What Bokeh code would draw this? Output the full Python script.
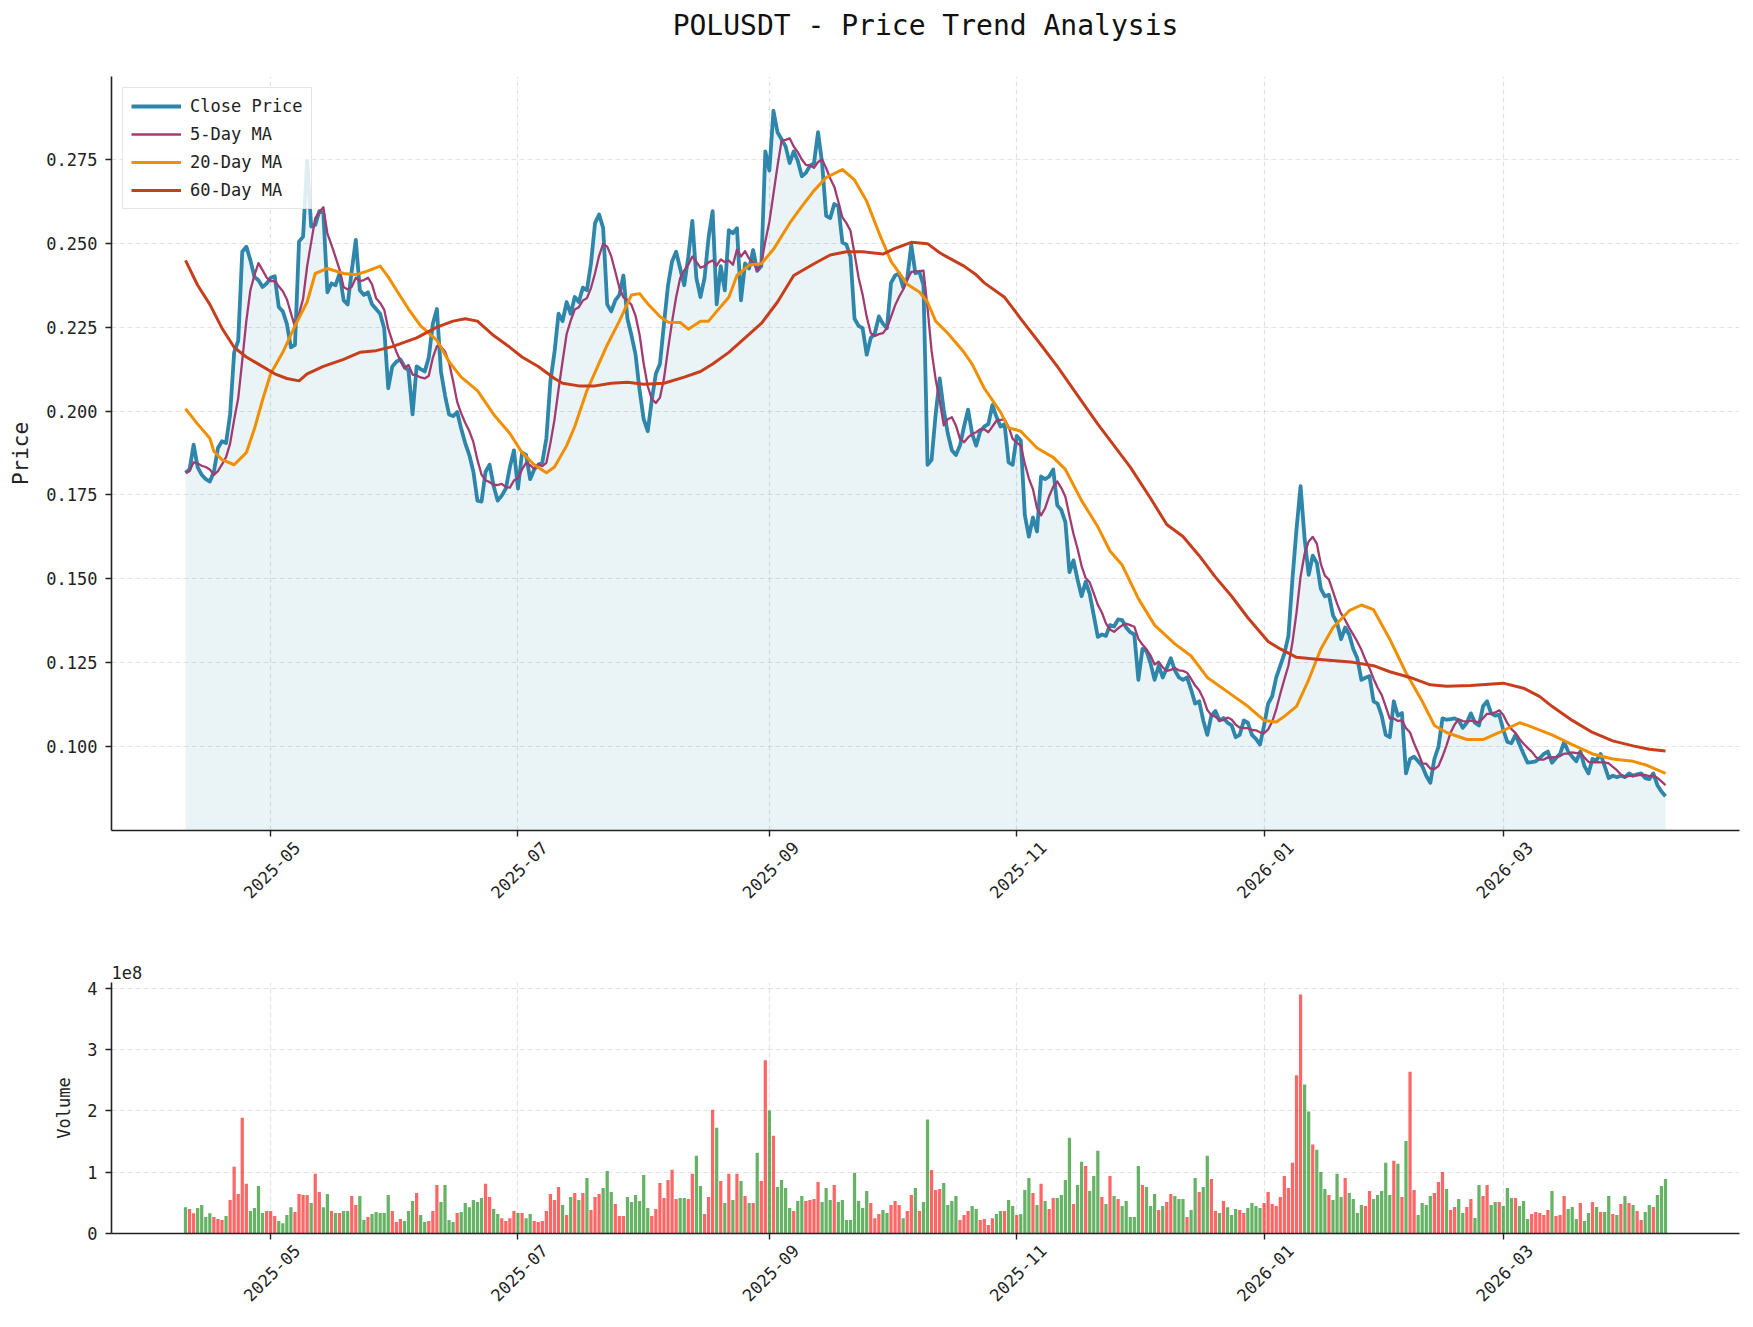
import numpy as np
import pandas as pd
from math import pi
from bokeh.plotting import figure
from bokeh.layouts import column
from bokeh.core.properties import value
from bokeh.models import (Range1d, FixedTicker, DatetimeTickFormatter,
                          NumeralTickFormatter, Legend, LegendItem)
from bokeh.embed import file_html
from bokeh.resources import INLINE

# ---------------- data ----------------
TITLE = "POLUSDT - Price Trend Analysis"
START = "2025-04-10"   # first daily close; one value per day

close = [
    0.1816, 0.1826, 0.1900, 0.1833, 0.1810, 0.1797, 0.1790, 0.1819, 0.1890, 0.1910,
    0.1905, 0.1990, 0.2175, 0.2210, 0.2475, 0.2490, 0.2450, 0.2400, 0.2390, 0.2370,
    0.2380, 0.2397, 0.2402, 0.2310, 0.2297, 0.2260, 0.2190, 0.2197, 0.2505, 0.2520,
    0.2746, 0.2550, 0.2555, 0.2596, 0.2590, 0.2354, 0.2380, 0.2375, 0.2410, 0.2330,
    0.2318, 0.2418, 0.2510, 0.2360, 0.2346, 0.2354, 0.2318, 0.2304, 0.2290, 0.2247,
    0.2068, 0.2133, 0.2147, 0.2154, 0.2133, 0.2120, 0.1990, 0.2133, 0.2125, 0.2118,
    0.2160, 0.2260, 0.2304, 0.2118, 0.2047, 0.1990, 0.1985, 0.1997, 0.1947, 0.1904,
    0.1869, 0.1819, 0.1733, 0.1730, 0.1819, 0.1840, 0.1776, 0.1733, 0.1748, 0.1769,
    0.1833, 0.1883, 0.1769, 0.1876, 0.1869, 0.1797, 0.1826, 0.1840, 0.1847, 0.1919,
    0.2090, 0.2175, 0.2290, 0.2268, 0.2325, 0.2290, 0.2340, 0.2325, 0.2368, 0.2360,
    0.2440, 0.2560, 0.2586, 0.2546, 0.2318, 0.2297, 0.2330, 0.2346, 0.2404, 0.2275,
    0.2225, 0.2168, 0.2061, 0.1976, 0.1940, 0.2033, 0.2111, 0.2140, 0.2260, 0.2375,
    0.2446, 0.2475, 0.2425, 0.2375, 0.2460, 0.2567, 0.2396, 0.2340, 0.2396, 0.2517,
    0.2596, 0.2318, 0.2432, 0.2360, 0.2539, 0.2530, 0.2545, 0.2330, 0.2440, 0.2425,
    0.2480, 0.2418, 0.2432, 0.2774, 0.2717, 0.2895, 0.2831, 0.2810, 0.2789, 0.2739,
    0.2774, 0.2746, 0.2700, 0.2710, 0.2731, 0.2739, 0.2831, 0.2739, 0.2582, 0.2575,
    0.2617, 0.2610, 0.2503, 0.2496, 0.2460, 0.2275, 0.2254, 0.2247, 0.2168, 0.2218,
    0.2232, 0.2282, 0.2260, 0.2247, 0.2382, 0.2404, 0.2410, 0.2368, 0.2396, 0.2496,
    0.2411, 0.2415, 0.2375, 0.1840, 0.1855, 0.1990, 0.2097, 0.2004, 0.1933, 0.1883,
    0.1869, 0.1897, 0.1954, 0.2004, 0.1933, 0.1897, 0.1940, 0.1954, 0.1961, 0.2018,
    0.1983, 0.1954, 0.1961, 0.1847, 0.1840, 0.1926, 0.1912, 0.1690, 0.1626, 0.1683,
    0.1641, 0.1805, 0.1797, 0.1805, 0.1826, 0.1719, 0.1705, 0.1669, 0.1520, 0.1555,
    0.1498, 0.1448, 0.1491, 0.1455, 0.1391, 0.1327, 0.1334, 0.1330, 0.1362, 0.1358,
    0.1379, 0.1377, 0.1355, 0.1341, 0.1334, 0.1199, 0.1291, 0.1285, 0.1248, 0.1199,
    0.1241, 0.1206, 0.1234, 0.1263, 0.1227, 0.1206, 0.1199, 0.1206, 0.1170, 0.1128,
    0.1135, 0.1078, 0.1035, 0.1092, 0.1106, 0.1078, 0.1085, 0.1071, 0.1063, 0.1028,
    0.1035, 0.1078, 0.1071, 0.1035, 0.1023, 0.1006, 0.1063, 0.1128, 0.1150, 0.1206,
    0.1241, 0.1277, 0.1330, 0.1500, 0.1648, 0.1776, 0.1620, 0.1512, 0.1569, 0.1548,
    0.1470, 0.1448, 0.1452, 0.1391, 0.1369, 0.1320, 0.1355, 0.1334, 0.1291, 0.1263,
    0.1199, 0.1205, 0.1210, 0.1135, 0.1128, 0.1092, 0.1035, 0.1028, 0.1135, 0.1092,
    0.1100, 0.0920, 0.0963, 0.0970, 0.0956, 0.0942, 0.0913, 0.0892, 0.0963, 0.0999,
    0.1084, 0.1080, 0.1082, 0.1084, 0.1078, 0.1056, 0.1071, 0.1099, 0.1071, 0.1063,
    0.1120, 0.1135, 0.1099, 0.1092, 0.1095, 0.1049, 0.1014, 0.1010, 0.1035, 0.1006,
    0.0978, 0.0952, 0.0954, 0.0956, 0.0966, 0.0978, 0.0985, 0.0952, 0.0966, 0.0978,
    0.1014, 0.0985, 0.0970, 0.0956, 0.0985, 0.0942, 0.0920, 0.0963, 0.0960, 0.0978,
    0.0942, 0.0906, 0.0913, 0.0909, 0.0913, 0.0909, 0.0920, 0.0913, 0.0917, 0.0920,
    0.0906, 0.0903, 0.0920, 0.0885, 0.0866, 0.0852,
]

# daily volume, in units of 1e8
volume_1e8 = [
    0.43, 0.40, 0.33, 0.415, 0.465, 0.27, 0.33, 0.27, 0.235, 0.22,
    0.285, 0.546, 1.087, 0.645, 1.89, 0.81, 0.366, 0.415, 0.776, 0.333,
    0.366, 0.366, 0.284, 0.202, 0.169, 0.30, 0.43, 0.35, 0.645, 0.628,
    0.628, 0.497, 0.973, 0.678, 0.43, 0.645, 0.366, 0.333, 0.333, 0.366,
    0.366, 0.612, 0.465, 0.612, 0.219, 0.268, 0.317, 0.35, 0.333, 0.333,
    0.628, 0.366, 0.186, 0.235, 0.202, 0.366, 0.53, 0.66, 0.30, 0.186,
    0.202, 0.366, 0.79, 0.514, 0.79, 0.219, 0.186, 0.333, 0.35, 0.497,
    0.43, 0.546, 0.514, 0.58, 0.81, 0.596, 0.40, 0.317, 0.25, 0.202,
    0.25, 0.366, 0.333, 0.333, 0.25, 0.317, 0.202, 0.186, 0.202, 0.366,
    0.645, 0.546, 0.76, 0.465, 0.30, 0.596, 0.66, 0.546, 0.66, 0.907,
    0.383, 0.596, 0.645, 0.743, 1.02, 0.678, 0.48, 0.284, 0.284, 0.596,
    0.514, 0.628, 0.53, 0.956, 0.415, 0.284, 0.40, 0.825, 0.58, 0.874,
    1.04, 0.563, 0.58, 0.58, 0.563, 0.973, 1.268, 0.776, 0.317, 0.596,
    2.02, 1.727, 0.858, 0.497, 0.973, 0.546, 0.973, 0.858, 0.612, 0.497,
    0.497, 1.317, 0.858, 2.825, 2.005, 1.596, 0.76, 0.874, 0.743, 0.415,
    0.366, 0.53, 0.612, 0.53, 0.546, 0.563, 0.842, 0.514, 0.743, 0.546,
    0.79, 0.514, 0.546, 0.219, 0.219, 0.99, 0.53, 0.415, 0.694, 0.497,
    0.25, 0.317, 0.383, 0.333, 0.465, 0.53, 0.465, 0.25, 0.366, 0.628,
    0.743, 0.366, 0.514, 1.858, 1.038, 0.71, 0.727, 0.825, 0.465, 0.53,
    0.612, 0.219, 0.30, 0.366, 0.448, 0.40, 0.219, 0.235, 0.137, 0.25,
    0.317, 0.366, 0.366, 0.546, 0.448, 0.30, 0.317, 0.71, 0.907, 0.66,
    0.465, 0.81, 0.53, 0.40, 0.58, 0.58, 0.628, 0.874, 1.563, 0.48,
    0.79, 1.17, 1.10, 0.694, 0.94, 1.35, 0.596, 0.48, 0.94, 0.612,
    0.563, 0.448, 0.53, 0.268, 0.268, 1.10, 0.79, 0.76, 0.448, 0.645,
    0.383, 0.448, 0.514, 0.645, 0.612, 0.563, 0.563, 0.268, 0.383, 0.907,
    0.678, 0.76, 1.268, 0.89, 0.366, 0.333, 0.53, 0.43, 0.30, 0.40,
    0.383, 0.333, 0.415, 0.497, 0.448, 0.415, 0.497, 0.678, 0.48, 0.448,
    0.596, 0.94, 0.743, 1.153, 2.58, 3.90, 2.43, 1.99, 1.45, 1.366,
    1.005, 0.727, 0.628, 0.546, 0.973, 0.596, 0.907, 0.66, 0.563, 0.333,
    0.464, 0.448, 0.694, 0.563, 0.628, 0.694, 1.153, 0.628, 1.186, 1.137,
    0.596, 1.51, 2.64, 0.71, 0.30, 0.497, 0.465, 0.612, 0.66, 0.842,
    1.005, 0.727, 0.383, 0.432, 0.563, 0.333, 0.432, 0.563, 0.251, 0.792,
    0.612, 0.792, 0.465, 0.514, 0.514, 0.448, 0.743, 0.579, 0.579, 0.448,
    0.53, 0.235, 0.317, 0.35, 0.333, 0.30, 0.383, 0.694, 0.284, 0.30,
    0.612, 0.40, 0.432, 0.235, 0.497, 0.202, 0.333, 0.514, 0.432, 0.35,
    0.35, 0.612, 0.317, 0.30, 0.481, 0.612, 0.497, 0.465, 0.366, 0.219,
    0.35, 0.465, 0.432, 0.628, 0.776, 0.891,
]

# u = up day (red bar), d = down day (green bar)
direction = " ".join([
    "d u u d d d d u u u", "d u u u u u d d d d", "u u u d d d d u u u",
    "u d u u d d u d u d", "d u u d d u d d d d", "d u u u d d d u d d",
    "u u u d d d d u d d", "d d d d u u d d u u", "u u d u d d u u u u",
    "u u u d u d u d u d", "u u u d d d u u u d", "d d d d d u u u u u",
    "u u d d u u d d u u", "u d u d u d u d u d", "u d u u d u d d d d",
    "u d d u u u u d d d", "u d d d d d d d d u", "u u d d u u u d u u",
    "d u d d u u u d d d", "d u u u d d u u u u", "d d u d d u d d d u",
    "d u d u u d d d d u", "d d u d d d u d u d", "u d d d d d u d d d",
    "u d u u d d d u d d", "u d d u u d u d d d", "u u d d d d u u u u",
    "u u u u u u d d u d", "d d u d d d u d d d", "d u u d d d d d u d",
    "u d u u d d d d u u", "u d u u d d u u d d", "u u d d u d d d u d",
    "d d u u u u u d u u", "u d d d u d d u d u", "d d u d u d u d u u",
    "d d u d d d",
]).split()

# 20-day moving average: (day index, value)
ma20_day = [0, 3, 6, 7, 9, 12, 15, 17, 19, 21, 24, 27, 30, 32, 35, 39, 42, 45, 48, 50,
            52, 55, 58, 62, 65, 68, 72, 76, 80, 83, 86, 89, 91, 94, 96, 99, 104, 107, 110, 112,
            114, 117, 119, 122, 124, 127, 129, 131, 134, 136, 139, 142, 145, 149, 152, 155, 158, 162, 165, 168,
            171, 174, 178, 181, 183, 185, 188, 192, 194, 197, 201, 203, 206, 210, 214, 217, 221, 225, 228, 231,
            235, 239, 244, 248, 252, 257, 262, 266, 269, 271, 274, 277, 280, 283, 287, 290, 293, 297, 301, 305,
            308, 311, 316, 320, 324, 329, 331, 337, 342, 347, 352, 357, 360, 365]
ma20_val = [0.2007, 0.1961, 0.1919, 0.1880, 0.1855, 0.1840, 0.1876, 0.1947, 0.2033, 0.2111,
            0.2175, 0.2254, 0.2325, 0.2410, 0.2425, 0.2410, 0.2406, 0.2418, 0.2432, 0.2400,
            0.2361, 0.2304, 0.2254, 0.2211, 0.2147, 0.2101, 0.2061, 0.1990, 0.1933, 0.1876,
            0.1840, 0.1816, 0.1833, 0.1897, 0.1954, 0.2061, 0.2197, 0.2268, 0.2346, 0.2350,
            0.2320, 0.2282, 0.2265, 0.2264, 0.2244, 0.2268, 0.2268, 0.2297, 0.2339, 0.2404,
            0.2435, 0.2439, 0.2482, 0.2560, 0.2610, 0.2657, 0.2696, 0.2720, 0.2689, 0.2625,
            0.2532, 0.2446, 0.2378, 0.2355, 0.2325, 0.2268, 0.2232, 0.2175, 0.2140, 0.2068,
            0.1997, 0.1950, 0.1940, 0.1890, 0.1862, 0.1826, 0.1733, 0.1655, 0.1583, 0.1541,
            0.1441, 0.1362, 0.1306, 0.1270, 0.1206, 0.1163, 0.1120, 0.1078, 0.1073, 0.1090,
            0.1120, 0.1199, 0.1291, 0.1355, 0.1405, 0.1422, 0.1408, 0.1320, 0.1220, 0.1135,
            0.1063, 0.1042, 0.1021, 0.1021, 0.1042, 0.1071, 0.1063, 0.1035, 0.1006, 0.0978,
            0.0963, 0.0956, 0.0946, 0.0920]

# 60-day moving average: (day index, value)
ma60_day = [0, 3, 6, 9, 12, 15, 18, 22, 25, 28, 30, 34, 39, 43, 47, 51, 57, 62, 66, 69,
            72, 76, 80, 83, 87, 91, 93, 97, 101, 105, 109, 113, 118, 123, 127, 130, 134, 138, 142, 146,
            150, 155, 159, 163, 167, 172, 175, 179, 183, 186, 188, 192, 195, 197, 202, 206, 211, 215, 220, 225,
            229, 233, 238, 242, 246, 250, 254, 258, 262, 267, 270, 274, 279, 288, 293, 297, 302, 307, 311, 317,
            325, 330, 334, 337, 342, 347, 352, 357, 361, 365]
ma60_val = [0.2449, 0.2375, 0.2318, 0.2247, 0.2190, 0.2161, 0.2140, 0.2111, 0.2097, 0.2090,
            0.2111, 0.2133, 0.2154, 0.2175, 0.2180, 0.2192, 0.2218, 0.2250, 0.2268, 0.2275,
            0.2268, 0.2225, 0.2190, 0.2161, 0.2133, 0.2097, 0.2083, 0.2075, 0.2075, 0.2083,
            0.2086, 0.2080, 0.2083, 0.2101, 0.2118, 0.2140, 0.2175, 0.2218, 0.2261, 0.2325,
            0.2404, 0.2439, 0.2465, 0.2475, 0.2475, 0.2468, 0.2485, 0.2503, 0.2499, 0.2472,
            0.2458, 0.2432, 0.2406, 0.2382, 0.2339, 0.2275, 0.2197, 0.2133, 0.2047, 0.1961,
            0.1897, 0.1833, 0.1740, 0.1662, 0.1626, 0.1569, 0.1505, 0.1448, 0.1384, 0.1313,
            0.1291, 0.1266, 0.1260, 0.1251, 0.1241, 0.1223, 0.1206, 0.1184, 0.1180, 0.1182,
            0.1189, 0.1174, 0.1149, 0.1120, 0.1078, 0.1042, 0.1017, 0.1002, 0.0992, 0.0987]

month_ticks = ["2025-05-01", "2025-07-01", "2025-09-01", "2025-11-01", "2026-01-01", "2026-03-01"]
price_ticks = [0.100, 0.125, 0.150, 0.175, 0.200, 0.225, 0.250, 0.275]
volume_ticks = [0, 1, 2, 3, 4]

# ---------------- derived ----------------
start = pd.Timestamp(START)
n = len(close)
dates = start + pd.to_timedelta(np.arange(n), unit="D")
ma5 = pd.Series(close).rolling(5, min_periods=1).mean().values
ma20_dates = start + pd.to_timedelta(np.array(ma20_day), unit="D")
ma60_dates = start + pd.to_timedelta(np.array(ma60_day), unit="D")
bar_colors = ["red" if d == "u" else "green" for d in direction]

pad = pd.Timedelta(days=(n - 1) * 0.05)
x_lo = start - pad
x_hi = dates[-1] + pad
pmin, pmax = min(close), max(close)
prng = pmax - pmin
vmax = max(volume_1e8)

FONT = "DejaVu Sans Mono"
DARK = "#222222"
MS_DAY = 86400000
month_ms = [pd.Timestamp(m).value / 1e6 for m in month_ticks]
LABEL_SHIFT_DAYS = 6.5   # rotated labels sit centred under their tick

fmt = DatetimeTickFormatter(
    microseconds="%Y-%m", milliseconds="%Y-%m", seconds="%Y-%m", minsec="%Y-%m",
    minutes="%Y-%m", hourmin="%Y-%m", hours="%Y-%m", days="%Y-%m",
    months="%Y-%m", years="%Y-%m")

W = 1753
FRAME_L, FRAME_R = 111, 14
TITLE_H = 50


def style(p, ylabel, ylabel_size, yticks, yfmt=None):
    p.outline_line_color = None
    p.background_fill_color = "white"
    p.border_fill_color = "white"
    # x axis: tick marks at month starts (minor), labels on a shifted major set
    xa = p.xaxis[0]
    xa.ticker = FixedTicker(ticks=[t + LABEL_SHIFT_DAYS * MS_DAY for t in month_ms],
                            minor_ticks=month_ms)
    xa.formatter = fmt
    xa.major_tick_line_color = None
    xa.major_tick_out = 6
    xa.major_tick_in = 0
    xa.minor_tick_line_color = DARK
    xa.minor_tick_line_width = 1.4
    xa.minor_tick_out = 6
    xa.minor_tick_in = 0
    xa.major_label_orientation = pi / 4
    ya = p.yaxis[0]
    ya.ticker = FixedTicker(ticks=yticks)
    if yfmt is not None:
        ya.formatter = yfmt
    ya.major_tick_line_color = DARK
    ya.major_tick_line_width = 1.4
    ya.major_tick_out = 6
    ya.major_tick_in = 0
    ya.minor_tick_line_color = None
    for ax in (xa, ya):
        ax.axis_line_color = DARK
        ax.axis_line_width = 1.6
        ax.major_label_text_font = FONT
        ax.major_label_text_font_size = "17px"
        ax.major_label_text_color = DARK
        ax.major_label_standoff = 8
    ya.axis_label = ylabel
    ya.axis_label_text_font = FONT
    ya.axis_label_text_font_size = ylabel_size
    ya.axis_label_text_font_style = "normal"
    ya.axis_label_text_color = DARK
    ya.axis_label_standoff = 10
    p.xgrid.ticker = FixedTicker(ticks=month_ms)
    p.ygrid.ticker = FixedTicker(ticks=yticks)
    p.grid.grid_line_color = "#b0b0b0"
    p.grid.grid_line_alpha = 0.35
    p.grid.grid_line_dash = "5 3"
    p.grid.grid_line_width = 1.2


# ---------------- title strip (its frame lines up with the panels' frames) ----------------
p0 = figure(width=W, height=TITLE_H, x_range=Range1d(0, 1), y_range=Range1d(0, 1),
            output_backend="svg", toolbar_location=None,
            x_axis_location=None, y_axis_location=None,
            min_border=0, min_border_left=0, min_border_right=0,
            min_border_top=0, min_border_bottom=0)
p0.outline_line_color = None
p0.grid.visible = False
p0.text(x=[0.5], y=[0.5], text=[TITLE],
        text_font=value(FONT), text_font_size="28px", text_color="#111111",
        text_align="center", text_baseline="middle")

# ---------------- price panel ----------------
p1 = figure(width=W, height=880, x_axis_type="datetime",
            x_range=Range1d(x_lo, x_hi),
            y_range=Range1d(pmin - 0.05 * prng, pmax + 0.05 * prng),
            output_backend="svg", toolbar_location=None,
            min_border_left=FRAME_L, min_border_right=FRAME_R,
            min_border_top=26, min_border_bottom=100)

style(p1, "Price", "21px", price_ticks, NumeralTickFormatter(format="0.000"))

p1.varea(x=dates, y1=0, y2=close, fill_color="#2E86AB", fill_alpha=0.1)
r_close = p1.line(dates, close, line_color="#2E86AB", line_width=3.8, line_join="round")
r_ma5 = p1.line(dates, ma5, line_color="#A23B72", line_width=2.3, line_join="round")
r_ma20 = p1.line(ma20_dates, ma20_val, line_color="#F18F01", line_width=3.0, line_join="round")
r_ma60 = p1.line(ma60_dates, ma60_val, line_color="#C73E1D", line_width=3.0, line_join="round")

legend = Legend(items=[
    LegendItem(label="Close Price", renderers=[r_close]),
    LegendItem(label="5-Day MA", renderers=[r_ma5]),
    LegendItem(label="20-Day MA", renderers=[r_ma20]),
    LegendItem(label="60-Day MA", renderers=[r_ma60]),
], location="top_left")
legend.label_text_font = FONT
legend.label_text_font_size = "17px"
legend.label_text_color = DARK
legend.glyph_width = 50
legend.glyph_height = 20
legend.label_height = 20
legend.spacing = 8
legend.padding = 8
legend.margin = 11
legend.label_standoff = 9
legend.border_line_color = "#cccccc"
legend.border_line_width = 1.5
legend.background_fill_alpha = 0.85
p1.add_layout(legend)

# ---------------- volume panel ----------------
p2 = figure(width=W, height=397, x_axis_type="datetime",
            x_range=p1.x_range, y_range=Range1d(0, vmax * 1.05),
            output_backend="svg", toolbar_location=None,
            min_border_left=FRAME_L, min_border_right=FRAME_R,
            min_border_top=52, min_border_bottom=94)
style(p2, "Volume", "17px", volume_ticks)

# scale factor shown above the volume axis
p2.title.text = "1e8"
p2.title.align = "left"
p2.title.text_font = FONT
p2.title.text_font_size = "17px"
p2.title.text_font_style = "normal"
p2.title.text_color = DARK
p2.title.standoff = 8
p2.title.offset = 0

p2.vbar(x=dates, top=volume_1e8, width=0.8 * MS_DAY, fill_color=bar_colors,
        fill_alpha=0.6, line_color=None)

layout = column(p0, p1, p2, spacing=0)
open("out.html", "w").write(file_html(layout, INLINE))
